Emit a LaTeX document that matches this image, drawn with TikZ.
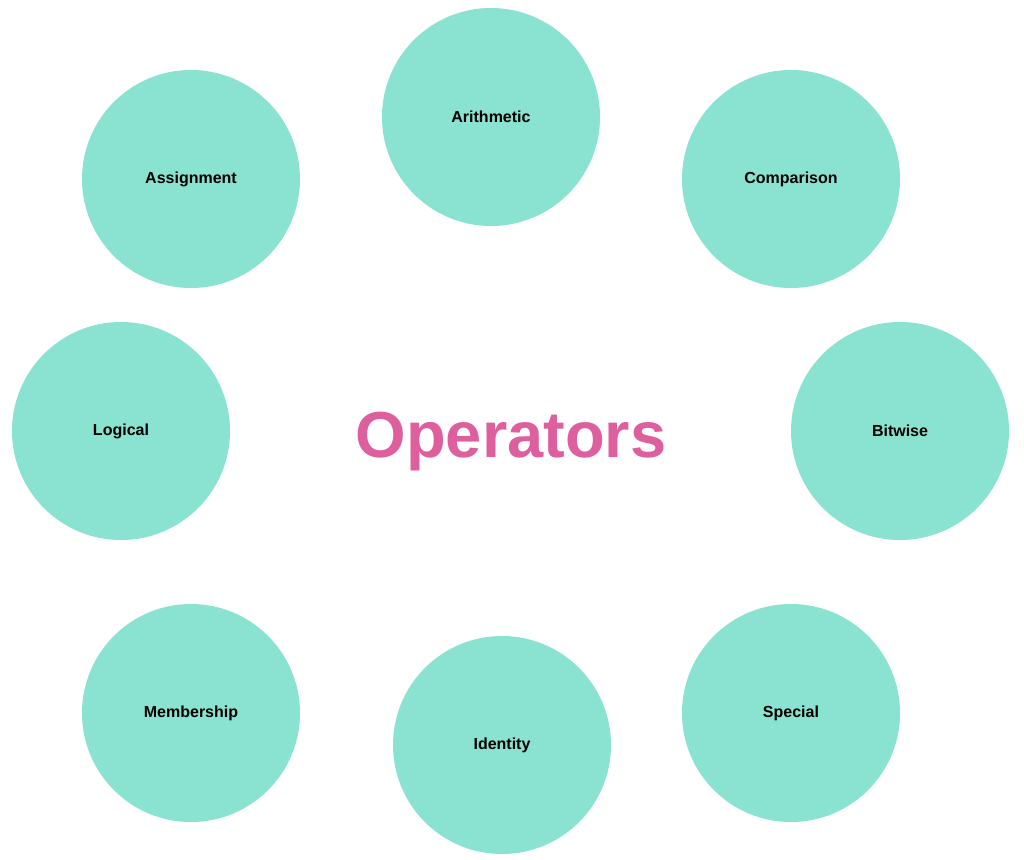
\documentclass[tikz,border=0pt]{standalone}
\usepackage{fontspec}
\setmainfont{Liberation Sans}
\definecolor{teal1}{HTML}{8AE2D0}
\definecolor{pink1}{HTML}{DE5F9E}
\begin{document}
\begin{tikzpicture}[x=1pt,y=-1pt,
  bubble/.style={circle, fill=teal1, draw=none, minimum size=218pt, inner sep=0pt,
    font=\fontsize{16}{18}\selectfont\bfseries, text=black},
  title/.style={font=\fontsize{65}{70}\selectfont\bfseries, text=pink1, inner sep=0pt}]
\useasboundingbox[fill=white] (0,0) rectangle (1024,859);
\node[bubble] (arith) at (491,117) {Arithmetic};
\node[bubble] (assign) at (191,179) {Assignment};
\node[bubble] (comp) at (791,179) {Comparison};
\node[bubble] (logic) at (121,431) {Logical};
\node[bubble] (bit) at (900,431) {Bitwise};
\node[bubble] (member) at (191,713) {Membership};
\node[bubble] (ident) at (502,745) {Identity};
\node[bubble] (spec) at (791,713) {Special};
\node[title, anchor=base] (ops) at (511,457) {Operators};
\end{tikzpicture}
\end{document}
